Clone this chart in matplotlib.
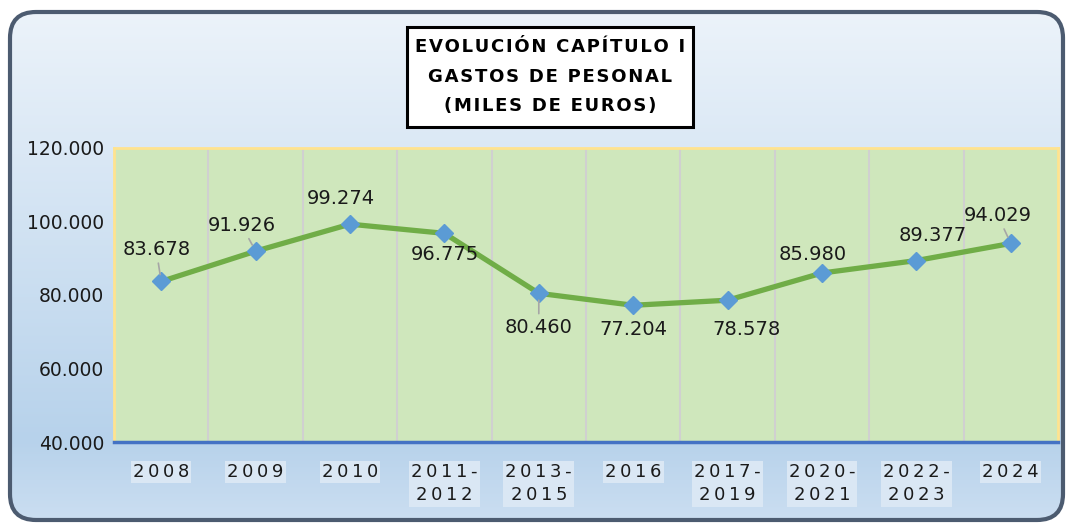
import numpy as np
import matplotlib.pyplot as plt
from matplotlib.patches import FancyBboxPatch, Rectangle
from matplotlib.ticker import FuncFormatter, MultipleLocator

# data
periodos = ['2008', '2009', '2010', '2011-2012', '2013-2015', '2016',
            '2017-2019', '2020-2021', '2022-2023', '2024']
gastos = [83678, 91926, 99274, 96775, 80460, 77204, 78578, 85980, 89377, 94029]
titulo = ['EVOLUCIÓN CAPÍTULO I', 'GASTOS DE PESONAL', '(MILES DE EUROS)']

# label offsets in pixels (layout only)
offsets = [(-5, 32), (-14, 26), (-9, 26), (0, -21), (0, -34),
           (0, -24), (19, -29), (-9, 19), (16, 25), (-13, 28)]
leaders = [0, 1, 4, 9]


def miles(v, pos=None):
    return f'{int(round(v)):,}'.replace(',', '.')


def espaciado(s, sep='\u2009'):
    partes = s.replace('-', '-\n').split('\n')
    return '\n'.join(sep.join(p) for p in partes)


W, H = 1073, 527
fig = plt.figure(figsize=(W / 100, H / 100), dpi=100)
fig.patch.set_facecolor('white')

# background with rounded border
ax_bg = fig.add_axes([0, 0, 1, 1])
ax_bg.set_xlim(0, W)
ax_bg.set_ylim(H, 0)
ax_bg.axis('off')
ys = np.arange(H)
c_top = np.array([0xEC, 0xF3, 0xFA]) / 255
c_mid = np.array([0xB7, 0xD2, 0xEB]) / 255
c_bot = np.array([0xCB, 0xDE, 0xF1]) / 255
grad = np.zeros((H, 1, 3))
for k in range(3):
    grad[:, 0, k] = np.interp(ys, [10, 440, 520], [c_top[k], c_mid[k], c_bot[k]])
im = ax_bg.imshow(grad, extent=(0, W, H, 0), aspect='auto')
box = FancyBboxPatch((10, 12), 1053, 508, boxstyle='round,pad=0,rounding_size=26',
                     facecolor='none', edgecolor='#4C5B70', lw=3)
ax_bg.add_patch(box)
im.set_clip_path(box)

# title box
ax_bg.add_patch(Rectangle((407, 27), 286, 100, facecolor='white',
                          edgecolor='black', lw=2.2))
for i, linea in enumerate(titulo):
    ax_bg.text(550, 47 + i * 29.5, '\u200a'.join(linea), ha='center', va='center',
               fontsize=13, fontweight='bold', color='black')

# plot area
ax = fig.add_axes([114 / W, 1 - 442 / H, (1058 - 114) / W, (442 - 148) / H])
ax.set_facecolor('#CFE7BC')
x = np.arange(len(periodos))
ax.plot(x, gastos, color='#70AD47', lw=3.8, marker='D', ms=9,
        markerfacecolor='#5B9BD5', markeredgecolor='#5B9BD5', zorder=3)

for i, v in enumerate(gastos):
    props = None
    if i in leaders:
        props = dict(arrowstyle='-', color='#A6A6A6', lw=1.2, shrinkA=1, shrinkB=5)
    ax.annotate(miles(v), (x[i], v), xytext=offsets[i], textcoords='offset pixels',
                ha='center', va='center', fontsize=14, color='#1A1A1A',
                arrowprops=props, zorder=4)

ax.set_xlim(-0.5, len(periodos) - 0.5)
ax.set_ylim(40000, 120000)
ax.yaxis.set_major_locator(MultipleLocator(20000))
ax.yaxis.set_major_formatter(FuncFormatter(miles))
ax.set_xticks(x)
ax.set_xticklabels([espaciado(p) for p in periodos], fontsize=13,
                   linespacing=1.4, va='top')
for t in ax.get_xticklabels():
    t.set_bbox(dict(facecolor='#DAE7F4', edgecolor='none', pad=1.5))
ax.tick_params(axis='x', length=0, pad=15, colors='#1A1A1A')
ax.tick_params(axis='y', length=0, pad=7, labelsize=13.5, colors='#1A1A1A')

for b in np.arange(0.5, len(periodos) - 0.5):
    ax.axvline(b, color='#D0D0D0', lw=1.5, zorder=1)

for s in ['top', 'left', 'right']:
    ax.spines[s].set_color('#FFE38F')
    ax.spines[s].set_linewidth(2)
ax.spines['bottom'].set_color('#4472C4')
ax.spines['bottom'].set_linewidth(2.5)

fig.savefig('out.png', dpi=100)
